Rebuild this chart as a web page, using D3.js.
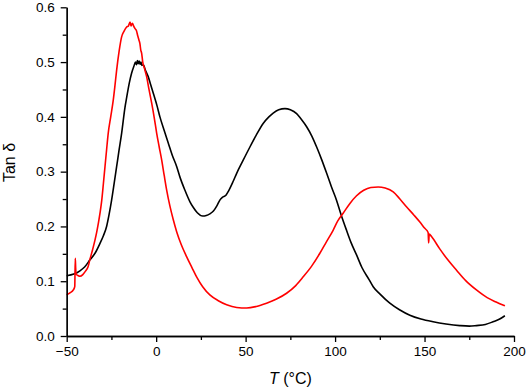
<!DOCTYPE html>
<html>
<head>
<meta charset="utf-8">
<script src="https://cdn.jsdelivr.net/npm/d3@7"></script>
<style>
  body { margin: 0; background: #fff; }
  text { font-family: "Liberation Sans", Arial, sans-serif; fill: #000; }
</style>
</head>
<body>
<svg id="chart" width="526" height="391"></svg>
<script>
//#region DATA /////////////////////////////////////////////////////////////////

// temperature (°C) and tan delta
const blackT = [-50, -46, -42.6, -40, -37, -34, -31.4, -29.5, -27.7, -26.3,
  -24.9, -23.5, -22.1, -20.7, -19.3, -17.4, -16.5, -15, -13.7, -12.5, -11.5,
  -11, -10.5, -10, -9.5, -9, -8.5, -8, -7.2, -6, -4.4, -3, -1.6, 0.5, 2.1, 4.5,
  6.8, 9, 11.5, 13.3, 16.1, 18.9, 20.7, 23, 26, 28, 30, 32, 34, 35.6, 37, 39,
  40.5, 43, 45, 48.5, 52.4, 56, 59.8, 63, 65.4, 68.5, 72, 75, 78.5, 81, 84.1,
  87, 89.7, 92.5, 95.3, 98, 100.8, 103.5, 106.4, 109, 112, 115, 119, 121.3,
  125, 130.6, 136, 141.8, 148, 154.8, 162, 169.7, 175, 179, 184, 188.3, 192,
  194.9];
const blackTan = [0.110, 0.113, 0.119, 0.126, 0.139, 0.152, 0.169, 0.183,
  0.200, 0.222, 0.248, 0.278, 0.309, 0.340, 0.370, 0.418, 0.435, 0.462, 0.480,
  0.492, 0.500, 0.495, 0.503, 0.497, 0.502, 0.496, 0.500, 0.494, 0.495, 0.485,
  0.473, 0.458, 0.443, 0.420, 0.400, 0.375, 0.352, 0.330, 0.309, 0.290, 0.266,
  0.245, 0.235, 0.225, 0.219, 0.220, 0.223, 0.228, 0.238, 0.248, 0.253, 0.257,
  0.265, 0.282, 0.297, 0.320, 0.345, 0.367, 0.388, 0.400, 0.407, 0.413, 0.415,
  0.413, 0.406, 0.396, 0.382, 0.365, 0.345, 0.322, 0.297, 0.272, 0.248, 0.220,
  0.193, 0.170, 0.148, 0.125, 0.103, 0.090, 0.077, 0.060, 0.048, 0.038, 0.031,
  0.026, 0.022, 0.019, 0.018, 0.019, 0.021, 0.026, 0.031, 0.037];

const redT = [-50, -48, -46.3, -45.5, -45.2, -45, -44.7, -43.5, -42.6, -41,
  -39.8, -38, -37, -35.5, -34.2, -33.2, -32.3, -31.3, -30.4, -29.5, -28.6,
  -27.7, -26.8, -25.4, -24, -23, -22.1, -20.7, -19.3, -18, -16.5, -15.5, -14.6,
  -14, -13.3, -12.5, -11.8, -11, -10.3, -9.6, -9.1, -8.6, -8.1, -7.5, -6.5,
  -5.3, -4, -2.5, -1, 0.3, 1.7, 3.1, 4.5, 5.9, 7.7, 9.5, 11.5, 14, 17, 20,
  22.6, 26, 30, 35, 39.4, 45, 50.6, 56, 61.7, 67, 72.9, 78, 82.2, 87, 91.5, 95,
  98.9, 101.5, 104.5, 108.3, 112, 116, 120, 124.1, 128, 132.5, 136, 139.9, 144,
  147.4, 150, 152, 152.3, 152.6, 154, 158.5, 163, 167.9, 173, 179, 185, 190,
  194.9];
const redTan = [0.075, 0.079, 0.084, 0.090, 0.142, 0.125, 0.113, 0.110, 0.109,
  0.112, 0.117, 0.127, 0.140, 0.158, 0.175, 0.190, 0.206, 0.226, 0.248, 0.278,
  0.309, 0.340, 0.370, 0.400, 0.430, 0.458, 0.485, 0.520, 0.546, 0.556, 0.564,
  0.566, 0.573, 0.566, 0.571, 0.565, 0.561, 0.557, 0.548, 0.540, 0.534, 0.522,
  0.516, 0.500, 0.488, 0.473, 0.450, 0.425, 0.397, 0.370, 0.345, 0.321, 0.293,
  0.266, 0.237, 0.213, 0.190, 0.167, 0.145, 0.125, 0.108, 0.090, 0.075, 0.064,
  0.057, 0.052, 0.051, 0.054, 0.060, 0.067, 0.078, 0.092, 0.108, 0.128, 0.151,
  0.171, 0.193, 0.210, 0.224, 0.242, 0.256, 0.266, 0.271, 0.272, 0.270, 0.263,
  0.251, 0.236, 0.221, 0.208, 0.197, 0.189, 0.170, 0.186, 0.181, 0.159, 0.139,
  0.120, 0.101, 0.084, 0.070, 0.062, 0.055];

const xTicks = [-50, 0, 50, 100, 150, 200];
const xMinor = [-25, 25, 75, 125, 175];
const yTicks = [0, 0.1, 0.2, 0.3, 0.4, 0.5, 0.6];
const yMinor = [0.05, 0.15, 0.25, 0.35, 0.45, 0.55];

//#endregion

//#region DRAWING //////////////////////////////////////////////////////////////

const LEFT = 66.7, RIGHT = 514, TOP = 7.3, BOTTOM = 336;

const svg = d3.select("#chart");
const x = d3.scaleLinear().domain([-50, 200]).range([LEFT, RIGHT]);
const y = d3.scaleLinear().domain([0, 0.6]).range([BOTTOM, TOP]);

// curves
function drawCurve(ts, vs, colour)
{
  let gen = d3.line().curve(d3.curveMonotoneX)
                .x(d => x(d[0])).y(d => y(d[1]));
  svg.append("path")
      .attr("d", gen(ts.map((t, i) => [t, vs[i]])))
      .attr("fill", "none")
      .attr("stroke", colour)
      .attr("stroke-width", 1.6)
      .attr("stroke-linejoin", "round");
}
drawCurve(blackT, blackTan, "#000");
drawCurve(redT, redTan, "#ff0000");

// axes: major ticks with labels, minor ticks without
function styleAxis(g)
{
  g.selectAll(".domain").attr("stroke", "#000").attr("stroke-width", 1.3);
  g.selectAll(".tick line").attr("stroke", "#000").attr("stroke-width", 1.3);
  g.selectAll("text").attr("font-size", "13.5px")
      .attr("font-family", "Liberation Sans, Arial, sans-serif");
}

svg.append("g")
    .attr("transform", "translate(0," + BOTTOM + ")")
    .call(d3.axisBottom(x).tickValues(xMinor).tickSize(4).tickFormat("")
              .tickSizeOuter(0))
    .call(styleAxis);
svg.append("g")
    .attr("transform", "translate(0," + BOTTOM + ")")
    .call(d3.axisBottom(x).tickValues(xTicks).tickSize(6).tickPadding(4)
              .tickFormat(d3.format("d")).tickSizeOuter(0))
    .call(styleAxis);

svg.append("g")
    .attr("transform", "translate(" + LEFT + ",0)")
    .call(d3.axisLeft(y).tickValues(yMinor).tickSize(4).tickFormat("")
              .tickSizeOuter(0))
    .call(styleAxis);
svg.append("g")
    .attr("transform", "translate(" + LEFT + ",0)")
    .call(d3.axisLeft(y).tickValues(yTicks).tickSize(6).tickPadding(6)
              .tickFormat(d3.format(".1f")).tickSizeOuter(0))
    .call(styleAxis);

// axis titles
svg.append("text")
    .attr("transform", "translate(15,162.5) rotate(-90)")
    .attr("text-anchor", "middle")
    .attr("font-size", "16px")
    .text("Tan δ");

let xt = svg.append("text")
    .attr("x", (LEFT + RIGHT) / 2)
    .attr("y", 384)
    .attr("text-anchor", "middle")
    .attr("font-size", "16px");
xt.append("tspan").attr("font-style", "italic").text("T");
xt.append("tspan").text(" (°C)");

//#endregion
</script>
</body>
</html>
